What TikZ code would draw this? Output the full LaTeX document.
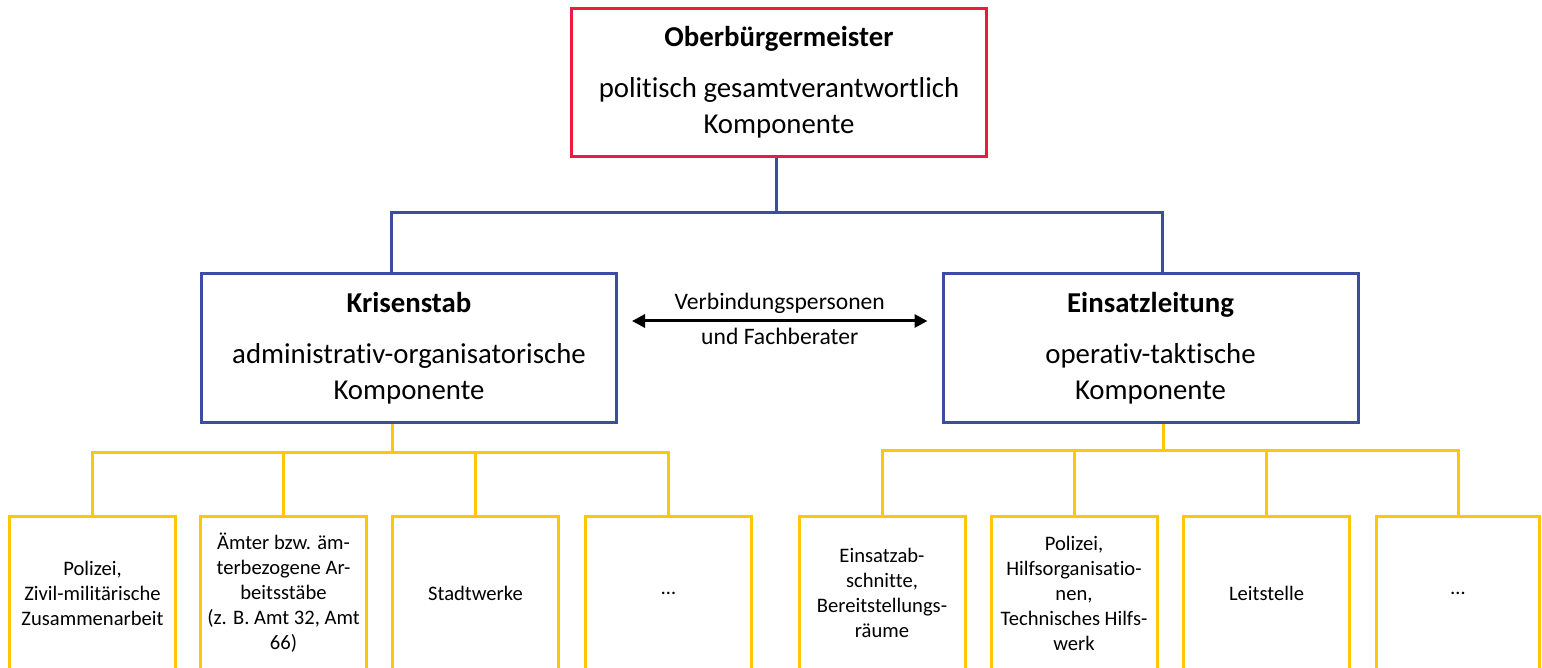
\documentclass[tikz,border=0pt]{standalone}
\usepackage{fontspec}
\setmainfont{Carlito}[Ligatures=NoCommon]
\usetikzlibrary{positioning,calc,arrows.meta}
\definecolor{obmred}{RGB}{236,26,64}
\definecolor{stabblue}{RGB}{60,76,158}
\definecolor{unitgold}{RGB}{255,198,10}
\tikzset{
  obm/.style   = { draw=obmred, line width=1.5pt, minimum width=207.5pt, minimum height=74pt,
    inner sep=0pt, align=center, font=\fontsize{14.4}{18}\selectfont },
  stab/.style  = { obm, draw=stabblue, minimum height=74.5pt },
  unit/.style  = { draw=unitgold, line width=1.5pt, minimum width=83pt, minimum height=77pt,
    inner sep=0pt, align=center, font=\fontsize{10.3}{12.5}\selectfont },
  bline/.style = { draw=stabblue, line width=1.5pt },
  yline/.style = { draw=unitgold, line width=1.5pt },
  link/.style  = { line width=1.5pt, {Triangle[length=6.5pt,width=6.5pt]}-{Triangle[length=6.5pt,width=6.5pt]},
    shorten <=7pt, shorten >=7pt },
  lbl/.style   = { font=\fontsize{11.8}{14}\selectfont, inner sep=2pt }
}
\begin{document}
\begin{tikzpicture}[x=0.5pt,y=-0.5pt]
    \useasboundingbox (0,0) rectangle (1542,668);
    \clip (0,0) rectangle (1542,668);
    % Leitung, Stäbe und Einheiten
    \node[obm] (obm) at (779,82.5) {\textbf{Oberbürgermeister}\\[7.5pt]politisch gesamtverantwortlich\\Komponente};
    \node[stab] (ks) at (409,348) {\textbf{Krisenstab}\\[7.5pt]administrativ-organisatorische\\Komponente};
    \node[stab] (el) at (1150.5,348) {\textbf{Einsatzleitung}\\[7.5pt]operativ-taktische\\Komponente};

    \node[unit] (k1) at (92.5,593) {Polizei,\\Zivil-militärische\\Zusammenarbeit};
    \node[unit] (k2) at (283.5,593) {Ämter bzw. äm-\\terbezogene Ar-\\beitsstäbe\\(z. B. Amt 32, Amt\\66)};
    \node[unit] (k3) at (475.5,593) {Stadtwerke};
    \node[unit] (k4) at (668.5,593) {…};
    \node[unit] (e1) at (882,593) {Einsatzab-\\schnitte,\\Bereitstellungs-\\räume};
    \node[unit] (e2) at (1074,593) {Polizei,\\Hilfsorganisatio-\\nen,\\Technisches Hilfs-\\werk};
    \node[unit] (e3) at (1266.5,593) {Leitstelle};
    \node[unit, minimum width=81.5pt] (e4) at (1458,593) {…};

    \path[bline] ([xshift=-1.5pt]obm.south) -- ++(0,55) -| ([xshift=-9pt]ks.north);
    \path[bline] ([xshift=-1.5pt]obm.south) -- ++(0,55) -| ([xshift=5.75pt]el.north);

    \foreach \u in {k1,k2,k3,k4}
      \path[yline] ([xshift=-8.5pt]ks.south) -- ++(0,28) -| (\u.north);
    \foreach \u in {e1,e2,e3,e4}
      \path[yline] ([xshift=6.25pt]el.south) -- ++(0,26) -| (\u.north);

    \draw[link] ([yshift=13.5pt]ks.east) -- ([yshift=13.5pt]el.west)
      node[lbl, midway, above=1pt] {Verbindungspersonen}
      node[lbl, midway, below=1pt] {und Fachberater};
  \end{tikzpicture}
\end{document}
